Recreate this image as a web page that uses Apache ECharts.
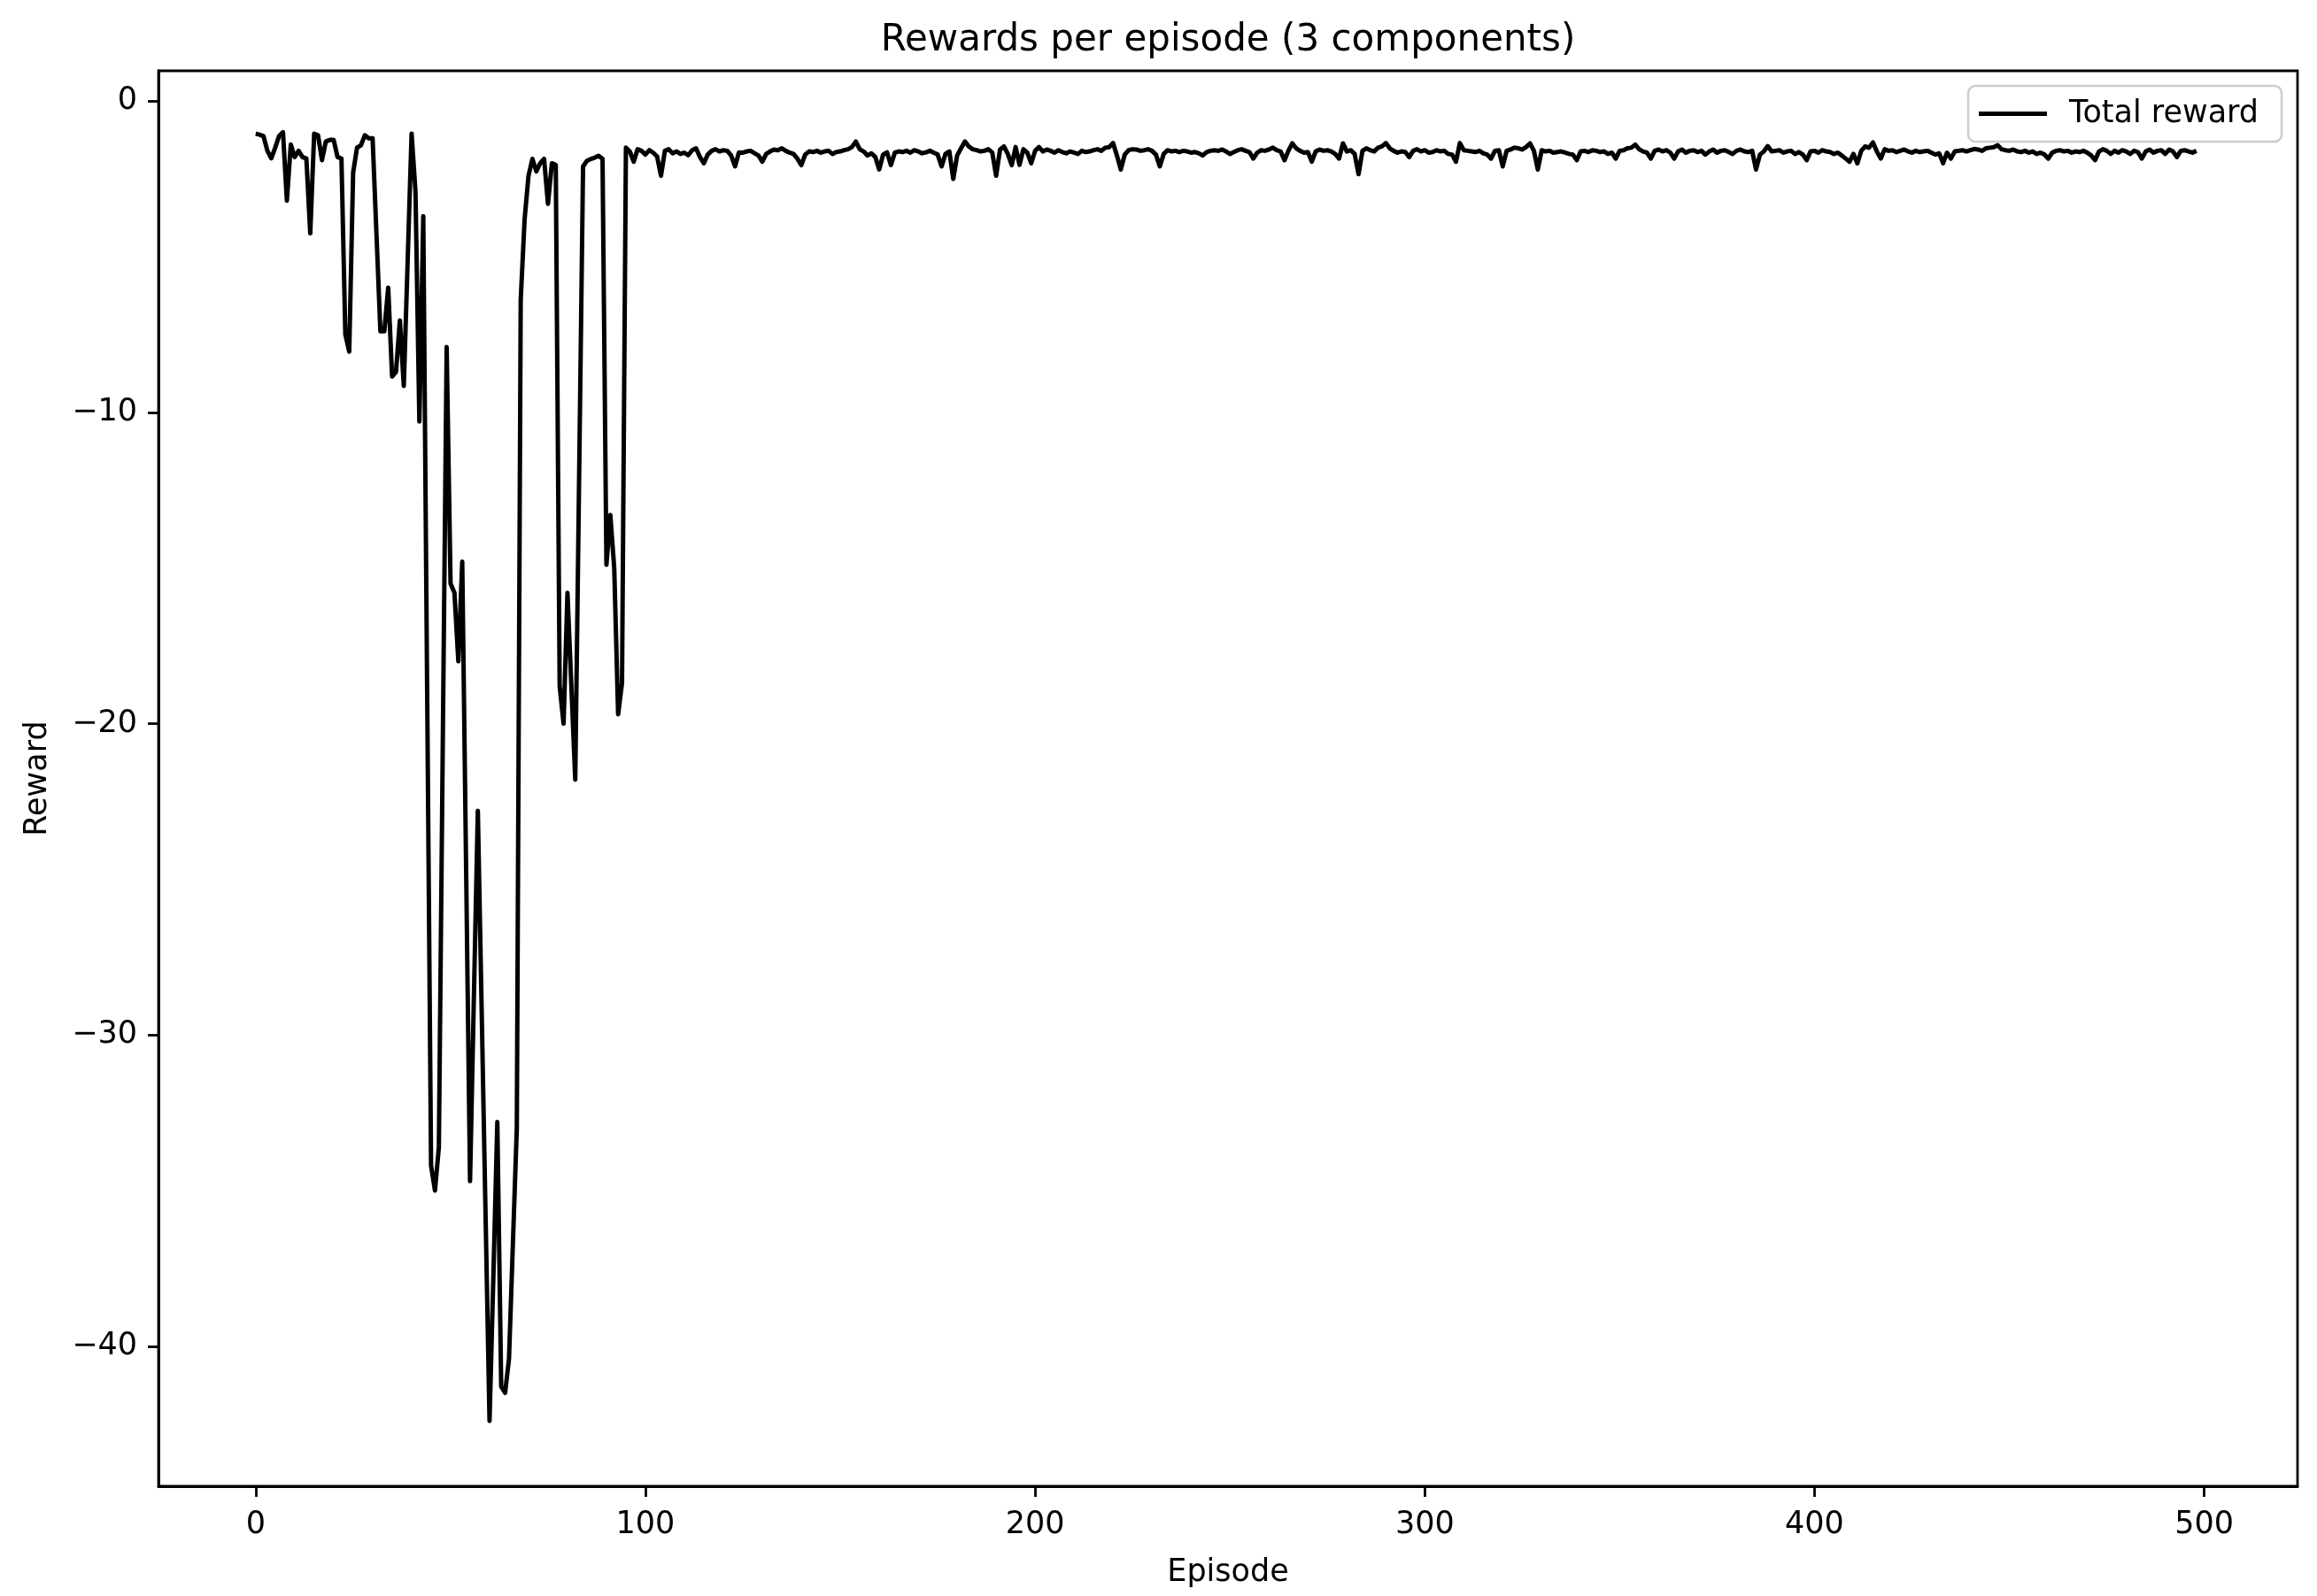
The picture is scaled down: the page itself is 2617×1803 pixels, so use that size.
<!DOCTYPE html>
<html>
<head>
<meta charset="utf-8">
<script src="https://cdn.jsdelivr.net/npm/echarts@6/dist/echarts.min.js"></script>
<style>html,body{margin:0;padding:0;background:#fff}#c{width:2617px;height:1803px}</style>
</head>
<body>
<div id="c"></div>
<script>
const titleText = 'Rewards per episode (3 components)';
const xLabel = 'Episode';
const yLabel = 'Reward';
const seriesName = 'Total reward';
const xTicks = [0, 100, 200, 300, 400, 500];
const yTicks = [0, -10, -20, -30, -40];

// Total reward per episode (episodes 0..499)
const rewardsEarly = [
 -1.05,-1.08,-1.13,-1.60,-1.84,-1.50,-1.12,-1.00,-3.20,-1.40,
 -1.80,-1.60,-1.80,-1.85,-4.25,-1.05,-1.10,-1.90,-1.30,-1.25,
 -1.25,-1.80,-1.85,-7.50,-8.05,-2.30,-1.50,-1.42,-1.10,-1.20,
 -1.20,-4.30,-7.40,-7.40,-6.00,-8.85,-8.70,-7.05,-9.15,-5.10,
 -1.05,-2.90,-10.30,-3.70,-19.00,-34.20,-35.00,-33.60,-20.70,-7.90,
 -15.50,-15.80,-18.00,-14.80,-24.70,-34.70,-28.70,-22.80,-29.30,-35.90,
 -42.40,-37.70,-32.80,-41.30,-41.50,-40.40,-36.70,-33.00,-6.40,-3.80,
 -2.40,-1.86,-2.26,-2.00,-1.86,-3.30,-2.00,-2.05,-18.80,-20.00,
 -15.80,-18.80,-21.80,-12.00,-2.10,-1.92,-1.86,-1.82,-1.76,-1.86,
 -14.90,-13.30,-15.00,-19.70,-18.70,-1.50
];
const rewardsLate = [
 -1.62,-1.95,-1.55,
 -1.60,-1.72,-1.58,-1.66,-1.78,-2.40,-1.60,-1.55,-1.68,-1.62,
 -1.70,-1.66,-1.74,-1.58,-1.52,-1.80,-2.00,-1.72,-1.60,-1.55,
 -1.62,-1.58,-1.60,-1.75,-2.10,-1.65,-1.66,-1.62,-1.60,-1.68,
 -1.75,-1.95,-1.70,-1.62,-1.56,-1.58,-1.52,-1.60,-1.66,-1.70,
 -1.85,-2.06,-1.72,-1.62,-1.64,-1.60,-1.66,-1.62,-1.60,-1.70,
 -1.64,-1.62,-1.58,-1.55,-1.48,-1.30,-1.55,-1.62,-1.75,-1.68,
 -1.80,-2.20,-1.72,-1.65,-2.06,-1.66,-1.62,-1.64,-1.60,-1.66,
 -1.58,-1.62,-1.68,-1.65,-1.60,-1.66,-1.72,-2.10,-1.70,-1.62,
 -2.50,-1.75,-1.52,-1.30,-1.46,-1.55,-1.58,-1.62,-1.60,-1.55,
 -1.65,-2.40,-1.56,-1.46,-1.70,-2.06,-1.48,-2.05,-1.55,-1.66,
 -2.00,-1.60,-1.48,-1.62,-1.56,-1.60,-1.66,-1.58,-1.64,-1.68,
 -1.62,-1.66,-1.70,-1.60,-1.64,-1.62,-1.58,-1.55,-1.60,-1.50,
 -1.48,-1.35,-1.75,-2.20,-1.72,-1.58,-1.55,-1.56,-1.60,-1.58,
 -1.55,-1.60,-1.72,-2.10,-1.70,-1.58,-1.62,-1.60,-1.64,-1.60,
 -1.62,-1.66,-1.64,-1.68,-1.75,-1.64,-1.60,-1.58,-1.60,-1.56,
 -1.62,-1.70,-1.64,-1.58,-1.55,-1.60,-1.64,-1.85,-1.66,-1.58,
 -1.60,-1.56,-1.50,-1.58,-1.62,-1.90,-1.60,-1.36,-1.52,-1.60,
 -1.66,-1.64,-1.95,-1.62,-1.56,-1.60,-1.58,-1.62,-1.70,-1.85,
 -1.36,-1.62,-1.58,-1.70,-2.35,-1.60,-1.52,-1.58,-1.62,-1.50,
 -1.46,-1.35,-1.52,-1.60,-1.66,-1.62,-1.64,-1.80,-1.60,-1.55,
 -1.62,-1.58,-1.66,-1.64,-1.58,-1.62,-1.60,-1.70,-1.72,-1.95,
 -1.35,-1.58,-1.60,-1.62,-1.64,-1.60,-1.68,-1.72,-1.85,-1.60,
 -1.58,-2.10,-1.60,-1.56,-1.50,-1.52,-1.56,-1.48,-1.36,-1.60,
 -2.20,-1.58,-1.62,-1.60,-1.66,-1.64,-1.62,-1.66,-1.70,-1.72,
 -1.90,-1.62,-1.60,-1.64,-1.58,-1.60,-1.64,-1.62,-1.70,-1.66,
 -1.85,-1.60,-1.58,-1.52,-1.50,-1.40,-1.55,-1.62,-1.66,-1.85,
 -1.60,-1.56,-1.62,-1.58,-1.66,-1.85,-1.62,-1.56,-1.66,-1.60,
 -1.58,-1.64,-1.60,-1.72,-1.62,-1.56,-1.66,-1.60,-1.58,-1.64,
 -1.70,-1.60,-1.56,-1.62,-1.64,-1.60,-2.20,-1.72,-1.62,-1.45,
 -1.62,-1.60,-1.58,-1.66,-1.62,-1.60,-1.70,-1.64,-1.72,-1.90,
 -1.62,-1.60,-1.66,-1.58,-1.62,-1.64,-1.70,-1.66,-1.75,-1.85,
 -1.95,-1.70,-2.00,-1.60,-1.46,-1.50,-1.33,-1.62,-1.85,-1.55,
 -1.60,-1.58,-1.64,-1.60,-1.56,-1.62,-1.66,-1.60,-1.64,-1.62,
 -1.60,-1.66,-1.72,-1.68,-2.00,-1.66,-1.85,-1.62,-1.60,-1.58,
 -1.62,-1.58,-1.54,-1.56,-1.60,-1.52,-1.50,-1.48,-1.42,-1.55,
 -1.58,-1.60,-1.56,-1.62,-1.64,-1.60,-1.66,-1.62,-1.70,-1.66,
 -1.72,-1.85,-1.66,-1.60,-1.58,-1.62,-1.60,-1.66,-1.62,-1.64,
 -1.60,-1.66,-1.75,-1.90,-1.62,-1.55,-1.60,-1.70,-1.60,-1.66,
 -1.58,-1.62,-1.70,-1.60,-1.64,-1.85,-1.62,-1.56,-1.66,-1.60,
 -1.58,-1.70,-1.56,-1.62,-1.80,-1.60,-1.58,-1.62,-1.66,-1.60
];
const rewards = rewardsEarly.concat(rewardsLate);
const points = rewards.map((v, i) => [i, v]);

const FONT = 'DejaVu Sans';
const chart = echarts.init(document.getElementById('c'), null, {renderer: 'canvas'});
chart.setOption({
  animation: false,
  backgroundColor: '#ffffff',
  textStyle: {fontFamily: FONT, color: '#000'},
  title: {
    text: titleText, left: 1382, top: 20, textAlign: 'center',
    textStyle: {fontFamily: FONT, fontSize: 42, fontWeight: 'normal', color: '#000'}
  },
  grid: {left: 179, top: 80, right: 22, bottom: 124, show: true, borderColor: '#000', borderWidth: 2.8, containLabel: false},
  legend: {
    left: 2223, top: 97,
    data: [{name: seriesName, icon: 'rect'}],
    backgroundColor: 'rgba(255,255,255,0.8)',
    borderColor: '#cccccc', borderWidth: 2.5, borderRadius: 8,
    padding: [14, 26, 14, 12],
    itemWidth: 77, itemHeight: 5,
    itemStyle: {color: '#000', borderWidth: 0},
    textStyle: {fontFamily: FONT, fontSize: 35, color: '#000', padding: [0, 0, 0, 20]}
  },
  xAxis: {
    type: 'value', min: -24.95, max: 523.95,
    name: xLabel, nameLocation: 'middle', nameGap: 80,
    nameTextStyle: {fontFamily: FONT, fontSize: 35, color: '#000'},
    splitLine: {show: false},
    axisLine: {show: true, onZero: false, lineStyle: {color: '#000', width: 2.8}},
    axisTick: {show: true, length: 12, inside: false, customValues: xTicks, lineStyle: {color: '#000', width: 2.8}},
    axisLabel: {customValues: xTicks, fontFamily: FONT, fontSize: 35, color: '#000', margin: 26}
  },
  yAxis: {
    type: 'value', min: -44.5, max: 0.97,
    name: yLabel, nameLocation: 'middle', nameGap: 119, nameRotate: 90,
    nameTextStyle: {fontFamily: FONT, fontSize: 35, color: '#000'},
    splitLine: {show: false},
    axisLine: {show: true, onZero: false, lineStyle: {color: '#000', width: 2.8}},
    axisTick: {show: true, length: 12, inside: false, customValues: yTicks, lineStyle: {color: '#000', width: 2.8}},
    axisLabel: {customValues: yTicks, fontFamily: FONT, fontSize: 35, color: '#000', margin: 24,
      formatter: v => (v < 0 ? '\u2212' + Math.abs(v) : String(v))}
  },
  series: [{
    name: seriesName, type: 'line', data: points,
    symbol: 'none', showSymbol: false,
    lineStyle: {color: '#000', width: 5, join: 'round'},
    itemStyle: {color: '#000'}
  }]
});
</script>
</body>
</html>
